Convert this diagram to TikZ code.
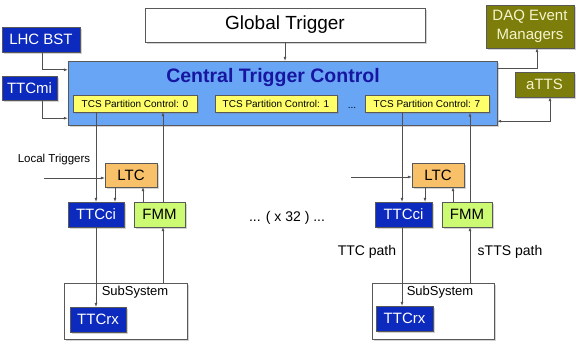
\documentclass[tikz,border=0pt]{standalone}
\usepackage{fontspec}
\setmainfont{Liberation Sans}
\usetikzlibrary{arrows.meta,positioning,shadows}

\definecolor{ttcblue}{RGB}{12,42,190}
\definecolor{ctcblue}{RGB}{105,165,245}
\definecolor{titleblue}{RGB}{22,22,160}
\definecolor{tcsyellow}{RGB}{255,255,105}
\definecolor{ltcorange}{RGB}{248,192,105}
\definecolor{fmmgreen}{RGB}{205,250,115}
\definecolor{daqolive}{RGB}{125,125,12}
\definecolor{daqtext}{RGB}{245,245,205}
\definecolor{wirecol}{RGB}{80,80,80}

\begin{document}
\begin{tikzpicture}[
  x=1pt, y=-1pt,
  every node/.style={font=\fontsize{15}{19}\selectfont},
  box/.style={draw=black!65, inner sep=0pt, align=center,
    drop shadow={shadow xshift=2pt, shadow yshift=-2pt, opacity=0.35}},
  plain/.style={box, fill=white},
  ttc/.style={box, fill=ttcblue, text=white},
  olive/.style={box, fill=daqolive, text=daqtext},
  tcs/.style={box, fill=tcsyellow, font=\fontsize{10}{12}\selectfont},
  ltc/.style={box, fill=ltcorange},
  fmm/.style={box, fill=fmmgreen},
  small/.style={font=\fontsize{11.5}{13}\selectfont},
  link/.style={draw=wirecol, line width=0.6pt},
  >={Latex[length=4pt,width=3pt]}
]
\useasboundingbox (0,0) rectangle (581,344);

% top row
\node[plain, minimum width=280pt, minimum height=34pt, font=\fontsize{19}{22}\selectfont] (gt) at (285,25) {Global Trigger};
\node[ttc, minimum width=78pt, minimum height=25pt] (lhc) at (41,39.5) {LHC BST};
\node[ttc, minimum width=55pt, minimum height=24pt] (ttcmi) at (29.5,88) {TTCmi};
\node[olive, minimum width=88pt, minimum height=43pt] (daq) at (530,26.5) {DAQ Event\\Managers};
\node[olive, minimum width=59pt, minimum height=25pt] (atts) at (544.5,84.5) {aTTS};

% central trigger control
\node[box, fill=ctcblue, minimum width=429pt, minimum height=64pt] (ctc) at (282.5,93) {};
\node[font=\bfseries\fontsize{19.5}{22}\selectfont, text=titleblue] (ctctitle) at (273,78) {Central Trigger Control};
\node[tcs, minimum width=124pt, minimum height=17pt] (tcs0) at (135,103.5) {TCS Partition Control: 0};
\node[tcs, minimum width=122pt, minimum height=17pt] (tcs1) at (276,103.5) {TCS Partition Control: 1};
\node[tcs, minimum width=124pt, minimum height=17pt] (tcs7) at (427,104) {TCS Partition Control: 7};
\node[font=\fontsize{10}{12}\selectfont] (tcsdots) at (352,108) {...};

% left partition
\node[small] (loctrig) at (54,160) {Local Triggers};
\coordinate (ltinA) at (44,178);
\node[ltc, minimum width=52pt, minimum height=24pt] (ltcA) at (131,175) {LTC};
\node[ttc, minimum width=56pt, minimum height=25pt] (ttcciA) at (96,214.5) {TTCci};
\node[fmm, minimum width=51pt, minimum height=25pt] (fmmA) at (159.5,214.5) {FMM};
\node[plain, minimum width=123pt, minimum height=56pt] (subA) at (125.5,311) {};
\node[font=\fontsize{13}{15}\selectfont] (subAlabel) at (135,292) {SubSystem};
\node[ttc, minimum width=56pt, minimum height=25pt] (ttcrxA) at (98,319.5) {TTCrx};

\node[font=\fontsize{14}{16}\selectfont] (times32) at (287,218) {... ( x 32 ) ...};

% right partition
\coordinate (ltinB) at (351,177);
\node[ltc, minimum width=52pt, minimum height=24pt] (ltcB) at (438,175) {LTC};
\node[ttc, minimum width=57pt, minimum height=25pt] (ttcciB) at (403.5,214.5) {TTCci};
\node[fmm, minimum width=50pt, minimum height=25pt] (fmmB) at (467,214.5) {FMM};
\node[plain, minimum width=122pt, minimum height=56pt] (subB) at (433,311) {};
\node[font=\fontsize{13}{15}\selectfont] (subBlabel) at (440,292) {SubSystem};
\node[ttc, minimum width=57pt, minimum height=25pt] (ttcrxB) at (404.5,318.5) {TTCrx};
\node[font=\fontsize{14}{16}\selectfont] (ttcpath) at (367,252) {TTC path};
\node[font=\fontsize{14}{16}\selectfont] (sttspath) at (510,252) {sTTS path};

% top connections
\draw[link, ->] (gt.south) -- (gt.south |- ctc.north);
\draw[link, ->] ([xshift=1pt]lhc.south) |- ([yshift=-9pt]ctc.north west);
\draw[link, ->] ([xshift=13pt]ttcmi.south) |- ([yshift=7pt]ctc.south west);
\draw[link, ->] ([yshift=-8pt]ctc.north east) -| ([xshift=7pt]daq.south);
\draw[link, <->] ([yshift=4pt]ctc.south east) -| ([xshift=5.5pt]atts.south);

% left partition connections
\draw[link, ->] (tcs0.south -| ttcciA) -- (ttcciA.north);
\draw[link, ->] ([xshift=3.5pt]fmmA.north) -- ([xshift=3.5pt]fmmA.north |- tcs0.south);
\draw[link, ->] (ltinA) -- (ltinA -| ltcA.west);
\draw[link, ->] ([xshift=-16pt]ltcA.south) -- ([xshift=-16pt]ltcA.south |- ttcciA.north);
\draw[link, ->] ([xshift=-16.5pt]fmmA.north) -- ([xshift=-16.5pt]fmmA.north |- ltcA.south);
\draw[link, ->] (ttcciA.south) -- (ttcciA.south |- ttcrxA.north);
\draw[link, ->] ([xshift=3.5pt]fmmA.south |- subA.north) -- ([xshift=3.5pt]fmmA.south);

% right partition connections
\draw[link, ->] ([xshift=-1.5pt]tcs7.south -| ttcciB) -- ([xshift=-1.5pt]ttcciB.north);
\draw[link, ->] ([xshift=3pt]fmmB.north) -- ([xshift=3pt]fmmB.north |- tcs7.south);
\draw[link, ->] (ltinB) -- (ltinB -| ltcB.west);
\draw[link, ->] ([xshift=-13pt]ltcB.south) -- ([xshift=-13pt]ltcB.south |- ttcciB.north);
\draw[link, ->] ([xshift=-14pt]fmmB.north) -- ([xshift=-14pt]fmmB.north |- ltcB.south);
\draw[link, ->] ([xshift=-1.5pt]ttcciB.south) -- ([xshift=-1.5pt]ttcciB.south |- ttcrxB.north);
\draw[link, ->] ([xshift=3pt]fmmB.south |- subB.north) -- ([xshift=3pt]fmmB.south);
\end{tikzpicture}
\end{document}
